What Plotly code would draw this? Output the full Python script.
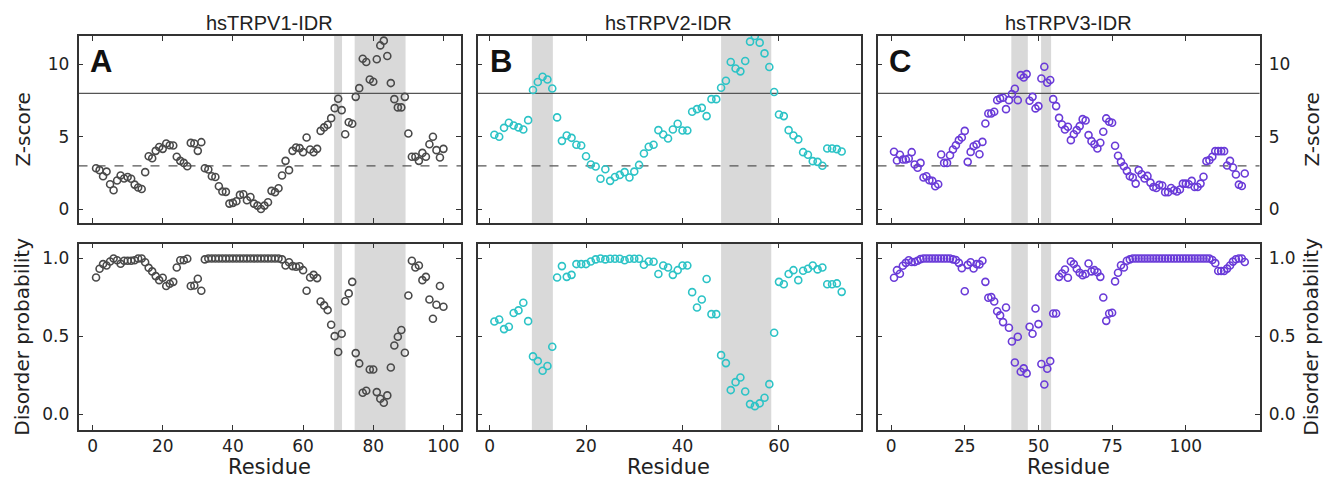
import plotly.graph_objects as go

# ---------------- data ----------------
titles = ["hsTRPV1-IDR", "hsTRPV2-IDR", "hsTRPV3-IDR"]
panel_letters = ["A", "B", "C"]

A_z = [2.83, 2.70, 2.28, 2.60, 1.73, 1.31, 1.98, 2.33, 2.12, 2.23,
       2.10, 1.70, 1.50, 1.40, 2.56, 3.66, 3.52, 4.03, 4.30, 4.17,
       4.54, 4.42, 4.40, 3.62, 3.34, 3.20, 2.97, 4.58, 4.54, 4.03,
       4.63, 2.83, 2.74, 2.28, 2.23, 1.59, 1.22, 1.20, 0.39, 0.44,
       0.55, 0.99, 1.04, 0.62, 0.85, 0.39, 0.25, 0.02, 0.25, 0.48,
       1.27, 1.18, 1.45, 2.33, 3.34, 2.70, 4.03, 4.26, 4.22, 3.94,
       4.95, 4.12, 3.94, 4.17, 5.41, 5.65, 5.83, 6.29, 6.98, 7.63,
       6.84, 5.18, 6.01, 5.90, 7.76, 8.36, 10.39, 10.16, 8.96, 8.80,
       10.35, 11.31, 11.64, 10.58, 8.71, 7.60, 7.03, 7.03, 7.76, 5.23,
       3.62, 3.62, 3.34, 3.89, 3.62, 4.49, 5.00, 4.08, 3.57, 4.17]
A_d = [0.878, 0.934, 0.964, 0.955, 0.981, 1.0, 0.989, 0.966, 0.985, 0.985,
       0.985, 0.989, 1.0, 1.0, 0.976, 0.94, 0.917, 0.887, 0.861, 0.876,
       0.823, 0.838, 0.85, 0.942, 0.989, 0.989, 0.998, 0.823, 0.827, 0.87,
       0.793, 0.994, 1.0, 1.0, 1.0, 1.0, 1.0, 1.0, 1.0, 1.0,
       1.0, 1.0, 1.0, 1.0, 1.0, 1.0, 1.0, 1.0, 1.0, 1.0,
       1.0, 1.0, 1.0, 0.994, 0.955, 0.976, 0.951, 0.947, 0.95, 0.925,
       0.793, 0.878, 0.895, 0.874, 0.724, 0.699, 0.669, 0.575, 0.502, 0.4,
       0.517, 0.726, 0.776, 0.85, 0.393, 0.327, 0.139, 0.152, 0.288, 0.288,
       0.143, 0.1, 0.075, 0.122, 0.301, 0.442, 0.498, 0.541, 0.395, 0.763,
       0.985, 0.942, 0.955, 0.861, 0.882, 0.737, 0.613, 0.703, 0.823, 0.69]

B_z = [5.14, 5.0, 5.62, 5.97, 5.78, 5.65, 5.51, 6.15, 8.23, 8.78,
       9.15, 8.96, 8.34, 6.34, 4.72, 5.09, 4.93, 4.45, 4.4, 3.66,
       3.09, 2.95, 2.1, 2.76, 1.96, 2.23, 2.37, 2.56, 2.19, 2.6,
       3.06, 3.85, 4.31, 4.45, 5.46, 5.16, 4.88, 5.51, 5.9, 5.44,
       5.44, 6.73, 6.91, 7.0, 6.43, 7.6, 7.6, 8.39, 8.87, 10.16,
       9.72, 9.52, 10.23, 11.57, 11.96, 11.5, 10.76, 9.82, 8.09, 6.54,
       6.43, 5.46, 5.09, 4.82, 3.94, 3.76, 3.32, 3.27, 3.0, 4.19,
       4.19, 4.15, 3.99]
B_d = [0.596, 0.609, 0.547, 0.562, 0.65, 0.667, 0.716, 0.598, 0.372, 0.342,
       0.28, 0.31, 0.434, 0.878, 0.951, 0.882, 0.895, 0.964, 0.964, 0.964,
       0.981, 0.994, 1.0, 0.994, 0.998, 0.998, 0.998, 0.989, 0.998, 0.998,
       0.998, 0.96, 0.981, 0.979, 0.9, 0.955, 0.942, 0.895, 0.925, 0.955,
       0.955, 0.784, 0.686, 0.737, 0.868, 0.643, 0.643, 0.38, 0.329, 0.156,
       0.207, 0.237, 0.147, 0.066, 0.053, 0.071, 0.107, 0.194, 0.524, 0.85,
       0.835, 0.9, 0.925, 0.861, 0.921, 0.934, 0.955, 0.93, 0.942, 0.835,
       0.835, 0.84, 0.786]

C_z = [3.97, 3.36, 3.76, 3.43, 3.43, 3.5, 3.94, 3.09, 2.86, 3.2,
       2.19, 2.28, 2.0, 1.96, 1.59, 1.73, 3.78, 3.2, 3.2, 3.73,
       4.12, 4.42, 4.77, 4.95, 5.41, 3.27, 3.96, 4.35, 4.47, 3.8,
       4.65, 5.92, 6.61, 6.61, 6.73, 7.53, 7.65, 7.7, 6.91, 7.53,
       7.95, 8.32, 7.53, 9.26, 9.1, 9.33, 7.49, 7.76, 6.96, 7.12,
       9.03, 9.84, 8.73, 8.92, 7.6, 7.12, 6.31, 5.85, 5.5, 5.69,
       4.77, 5.18, 5.46, 5.74, 6.22, 6.13, 5.12, 4.7, 4.49, 4.19,
       4.59, 5.35, 6.27, 6.04, 5.97, 4.38, 3.69, 3.27, 2.97, 2.65,
       2.28, 2.19, 1.77, 2.7, 2.42, 2.12, 2.3, 1.84, 1.54, 1.47,
       1.68, 1.64, 1.18, 1.18, 1.47, 1.31, 1.22, 1.36, 1.77, 1.77,
       1.73, 1.96, 1.54, 1.54, 1.77, 2.24, 3.32, 3.39, 3.62, 4.01,
       4.01, 4.01, 4.01, 3.02, 3.34, 2.88, 2.4, 1.7, 1.6, 2.47]
C_d = [0.876, 0.925, 0.902, 0.953, 0.972, 0.989, 0.977, 0.977, 0.985, 0.996,
       1.0, 1.0, 1.0, 1.0, 1.0, 1.0, 1.0, 1.0, 1.0, 1.0,
       0.994, 0.99, 0.972, 0.938, 0.79, 0.959, 0.976, 0.936, 0.964, 0.962,
       0.985, 0.85, 0.748, 0.752, 0.724, 0.662, 0.635, 0.592, 0.686, 0.556,
       0.468, 0.333, 0.498, 0.274, 0.295, 0.263, 0.562, 0.517, 0.679, 0.579,
       0.323, 0.192, 0.293, 0.342, 0.647, 0.647, 0.882, 0.904, 0.929, 0.876,
       0.981, 0.964, 0.934, 0.908, 0.893, 0.9, 0.968, 0.917, 0.925, 0.912,
       0.882, 0.75, 0.6, 0.647, 0.652, 0.853, 0.908, 0.957, 0.942, 0.985,
       0.994, 1.0, 1.0, 1.0, 1.0, 1.0, 1.0, 1.0, 1.0, 1.0,
       1.0, 1.0, 1.0, 1.0, 1.0, 1.0, 1.0, 1.0, 1.0, 1.0,
       1.0, 1.0, 1.0, 1.0, 1.0, 1.0, 1.0, 1.0, 0.99, 0.97,
       0.92, 0.92, 0.92, 0.935, 0.955, 0.98, 0.995, 1.0, 1.0, 0.977]

A_res = list(range(1, len(A_z) + 1))
B_res = list(range(1, len(B_z) + 1))
C_res = list(range(1, len(C_z) + 1))

A_shade = [[68.85, 71.1], [74.7, 89.2]]
B_shade = [[8.77, 13.12], [48.0, 58.4]]
C_shade = [[40.8, 46.4], [50.9, 54.3]]

z_threshold_solid = 8
z_threshold_dashed = 3

A_xticks = [0, 20, 40, 60, 80, 100]
B_xticks = [0, 20, 40, 60]
C_xticks = [0, 25, 50, 75, 100]
z_ticks = [0, 5, 10]
d_ticks = [0.0, 0.5, 1.0]

# ---------------- layout ----------------
W, H = 1329, 484
colors = ["#4a4a4a", "#2cc3c6", "#6a3bd8"]
xranges = [[-4, 105], [-2.5, 76.9], [-4.6, 125]]
xpix = [[78.5, 461], [477.5, 860.5], [877.5, 1259.5]]
top_pix = [36, 223]
bot_pix = [243.5, 430]

def px_x(p):
    return p / W

def px_y(p):
    return 1 - p / H

res_list = [A_res, B_res, C_res]
z_list = [A_z, B_z, C_z]
d_list = [A_d, B_d, C_d]
shade_list = [A_shade, B_shade, C_shade]
xtick_list = [A_xticks, B_xticks, C_xticks]

fig = go.Figure()
shapes = []
annotations = []
tick_font = dict(family="DejaVu Sans", size=17, color="#222")
axis_common = dict(showline=True, linecolor="#333", linewidth=1.5, mirror="ticks",
                   ticks="inside", ticklen=5, tickwidth=1.2, tickcolor="#333",
                   showgrid=False, zeroline=False, tickfont=tick_font)

for i in range(3):
    top_idx = i + 1
    bot_idx = i + 4
    xt = f"x{top_idx}" if top_idx > 1 else "x"
    yt = f"y{top_idx}" if top_idx > 1 else "y"
    xb = f"x{bot_idx}"
    yb = f"y{bot_idx}"
    marker = dict(symbol="circle-open", size=7, color=colors[i], line=dict(width=1.6, color=colors[i]))
    fig.add_trace(go.Scatter(x=res_list[i], y=z_list[i], mode="markers", marker=marker,
                             xaxis=xt, yaxis=yt, showlegend=False))
    fig.add_trace(go.Scatter(x=res_list[i], y=d_list[i], mode="markers", marker=marker,
                             xaxis=xb, yaxis=yb, showlegend=False))
    dom_x = [px_x(xpix[i][0]), px_x(xpix[i][1])]
    side = "right" if i == 2 else "left"
    show_y = i != 1
    fig.layout[f"xaxis{top_idx if top_idx > 1 else ''}"] = dict(
        domain=dom_x, range=xranges[i], anchor=yt, tickvals=xtick_list[i],
        showticklabels=False, **axis_common)
    fig.layout[f"yaxis{top_idx if top_idx > 1 else ''}"] = dict(
        domain=[px_y(top_pix[1]), px_y(top_pix[0])], range=[-0.95, 11.96], anchor=xt,
        tickvals=z_ticks, side=side, showticklabels=show_y, ticklabelstandoff=4, **axis_common)
    fig.layout[f"xaxis{bot_idx}"] = dict(
        domain=dom_x, range=xranges[i], anchor=yb, tickvals=xtick_list[i],
        showticklabels=True, **axis_common)
    fig.layout[f"yaxis{bot_idx}"] = dict(
        domain=[px_y(bot_pix[1]), px_y(bot_pix[0])], range=[-0.1, 1.096], anchor=xb,
        tickvals=d_ticks, tickformat=".1f", side=side, showticklabels=show_y,
        ticklabelstandoff=4, **axis_common)

    for (a, b) in shade_list[i]:
        for (xr, yr) in [(xt, yt), (xb, yb)]:
            shapes.append(dict(type="rect", xref=xr, yref=f"{yr} domain", x0=a, x1=b, y0=0, y1=1,
                               fillcolor="#d9d9d9", line=dict(width=0), layer="below"))
    shapes.append(dict(type="line", xref=f"{xt} domain", yref=yt, x0=0, x1=1,
                       y0=z_threshold_solid, y1=z_threshold_solid,
                       line=dict(color="#555", width=1.2), layer="below"))
    shapes.append(dict(type="line", xref=f"{xt} domain", yref=yt, x0=0, x1=1,
                       y0=z_threshold_dashed, y1=z_threshold_dashed,
                       line=dict(color="#555", width=1.2, dash="dash"), layer="below"))

    cx = px_x((xpix[i][0] + xpix[i][1]) / 2)
    annotations.append(dict(text=titles[i], x=cx, y=px_y(23), xref="paper", yref="paper",
                            showarrow=False, xanchor="center", yanchor="middle",
                            font=dict(family="Liberation Sans", size=20, color="#222")))
    annotations.append(dict(text=f"<b>{panel_letters[i]}</b>", x=px_x(xpix[i][0] + 10), y=px_y(42),
                            xref="paper", yref="paper", showarrow=False, xanchor="left", yanchor="top",
                            font=dict(family="Liberation Sans", size=31, color="#111")))
    annotations.append(dict(text="Residue", x=cx, y=px_y(467), xref="paper", yref="paper",
                            showarrow=False, xanchor="center", yanchor="middle",
                            font=dict(family="DejaVu Sans", size=21, color="#222")))

label_font = dict(family="DejaVu Sans", size=20, color="#222")
for xp in [22, 1311]:
    annotations.append(dict(text="Z-score", x=px_x(xp), y=px_y((top_pix[0] + top_pix[1]) / 2),
                            xref="paper", yref="paper", showarrow=False, textangle=-90,
                            xanchor="center", yanchor="middle", font=label_font))
    annotations.append(dict(text="Disorder probability", x=px_x(xp), y=px_y((bot_pix[0] + bot_pix[1]) / 2),
                            xref="paper", yref="paper", showarrow=False, textangle=-90,
                            xanchor="center", yanchor="middle", font=label_font))

fig.update_layout(width=W, height=H, margin=dict(l=0, r=0, t=0, b=0),
                  paper_bgcolor="white", plot_bgcolor="white",
                  shapes=shapes, annotations=annotations)

fig.write_html("out.html", config={"displayModeBar": False},
               post_script="document.body.style.margin='0px';document.body.style.padding='0px';document.body.style.overflow='hidden';")
